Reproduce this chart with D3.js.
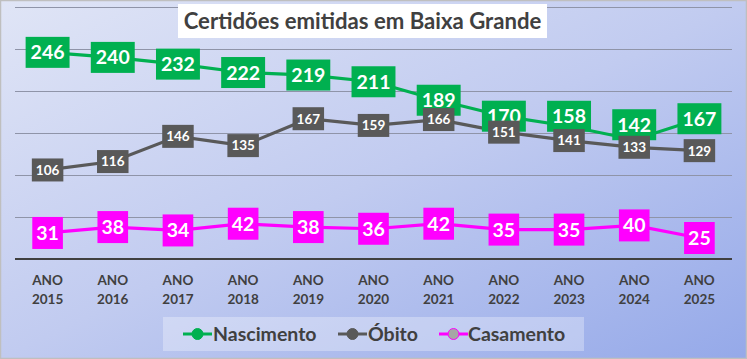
<!DOCTYPE html>
<html><head><meta charset="utf-8">
<script src="https://cdn.jsdelivr.net/npm/d3@7/dist/d3.min.js"></script>
<style>body{margin:0;padding:0;overflow:hidden}svg{display:block}</style>
</head><body>
<svg id="c" width="747" height="359"></svg>
<script>
const years = ["2015","2016","2017","2018","2019","2020","2021","2022","2023","2024","2025"];
const nascimento = [246,240,232,222,219,211,189,170,158,142,167];
const obito = [106,116,146,135,167,159,166,151,141,133,129];
const casamento = [31,38,34,42,38,36,42,35,35,40,25];
const yTicks = [0,50,100,150,200,250,300];
const title = "Certidões emitidas em Baixa Grande";

const W = 747, H = 359;
const FONT = "Lato, 'Open Sans', sans-serif";
const svg = d3.select("#c");
const defs = svg.append("defs");
const grad = defs.append("linearGradient").attr("id","bg")
  .attr("x1","0").attr("y1","0").attr("x2","1").attr("y2","1");
grad.append("stop").attr("offset","0%").attr("stop-color","#e0e5f6");
grad.append("stop").attr("offset","50%").attr("stop-color","#c1cbf0");
grad.append("stop").attr("offset","100%").attr("stop-color","#95a9e9");
svg.append("rect").attr("x",0.5).attr("y",0.5).attr("width",W-1).attr("height",H-1)
  .attr("fill","url(#bg)").attr("stroke","#bfbfbf").attr("stroke-width",1.5);

const x = d3.scaleBand().domain(years).range([15,732]);
const y = d3.scaleLinear().domain([0,300]).range([259,7]);
const cx = d => x(d) + x.bandwidth()/2;

// gridlines
svg.append("g").selectAll("line").data(yTicks.filter(t=>t>0)).join("line")
  .attr("x1",15).attr("x2",732).attr("y1",d=>Math.round(y(d))+0.5).attr("y2",d=>Math.round(y(d))+0.5)
  .attr("stroke","#8f94a8").attr("stroke-width",1);
// axis
const xAxis = d3.axisBottom(x).tickSize(0).tickFormat(()=> "");
const ax = svg.append("g").attr("transform",`translate(0,${y(0)})`).call(xAxis);
ax.select(".domain").attr("stroke","#404040").attr("stroke-width",2.2).attr("d","M15,0H732");
ax.selectAll(".tick").each(function(d){
  const g = d3.select(this);
  const t = g.append("text").attr("fill","#404040").attr("font-family",FONT)
    .attr("font-weight","bold").attr("font-size",13.5).attr("text-anchor","middle");
  t.append("tspan").attr("x",0).attr("y",26).text("ANO");
  t.append("tspan").attr("x",0).attr("y",45).text(d);
});

const series = [
  {name:"Nascimento", data:nascimento, color:"#00b050", fs:19.5, padX:5, h:31, txt:"#fff"},
  {name:"Casamento", data:casamento, color:"#ff00ff", fs:19.5, padX:4, h:32, txt:"#fff"},
  {name:"Óbito", data:obito, color:"#595959", fs:13.5, padX:4, h:23, txt:"#fff"}
];
// manual label nudges (label placement only)
const nudge = {"Nascimento": {"2023": -10, "2024": -15}};

const line = d3.line().x((d,i)=>cx(years[i])).y(d=>y(d));
// lines
[series[0],series[2],series[1]].forEach(s=>{
  svg.append("path").datum(s.data).attr("d",line).attr("fill","none")
    .attr("stroke",s.color).attr("stroke-width",3.2);
});
// labels
series.forEach(s=>{
  const g = svg.append("g");
  s.data.forEach((v,i)=>{
    const yr = years[i];
    const dy = (nudge[s.name] && nudge[s.name][yr]) || 0;
    const px = cx(yr), py = y(v) + dy;
    const rect = g.append("rect").attr("fill",s.color);
    const t = g.append("text").attr("x",px).attr("y",py).attr("dy","0.36em")
      .attr("text-anchor","middle").attr("fill",s.txt).attr("font-family",FONT)
      .attr("font-weight","bold").attr("font-size",s.fs).text(v);
    const w = t.node().getComputedTextLength() + 2*s.padX;
    rect.attr("x",px-w/2).attr("y",py-s.h/2).attr("width",w).attr("height",s.h);
  });
});

// title
const tg = svg.append("g");
tg.append("rect").attr("x",178).attr("y",4).attr("width",369).attr("height",34).attr("fill","#ffffff");
const tt = tg.append("text").attr("x",362.5).attr("y",21).attr("dy","0.36em").attr("text-anchor","middle")
  .attr("fill","#404040").attr("font-family",FONT).attr("font-weight","bold").attr("font-size",21).text(title);
const tw = tt.node().getComputedTextLength();
if (Math.abs(tw-358)>4) tt.attr("font-size",21*358/tw);

// legend
const lg = svg.append("g");
lg.append("rect").attr("x",163).attr("y",317).attr("width",421).attr("height",34)
  .attr("fill","#ffffff").attr("fill-opacity",0.3);
const items = [
  {name:"Nascimento", color:"#00b050", fill:"#00b050", x0:183, tx:213},
  {name:"Óbito", color:"#595959", fill:"#595959", x0:338, tx:368},
  {name:"Casamento", color:"#ff00ff", fill:"#a6a6a6", x0:439, tx:468}
];
items.forEach(it=>{
  lg.append("line").attr("x1",it.x0).attr("x2",it.x0+29).attr("y1",334).attr("y2",334)
    .attr("stroke",it.color).attr("stroke-width",3);
  lg.append("circle").attr("cx",it.x0+14.5).attr("cy",334).attr("r",5.5).attr("fill",it.fill)
    .attr("stroke",it.color).attr("stroke-width",1);
  lg.append("text").attr("x",it.tx).attr("y",334).attr("dy","0.36em").attr("fill","#404040")
    .attr("font-family",FONT).attr("font-weight","bold").attr("font-size",19.5).text(it.name);
});
</script>
</body></html>
